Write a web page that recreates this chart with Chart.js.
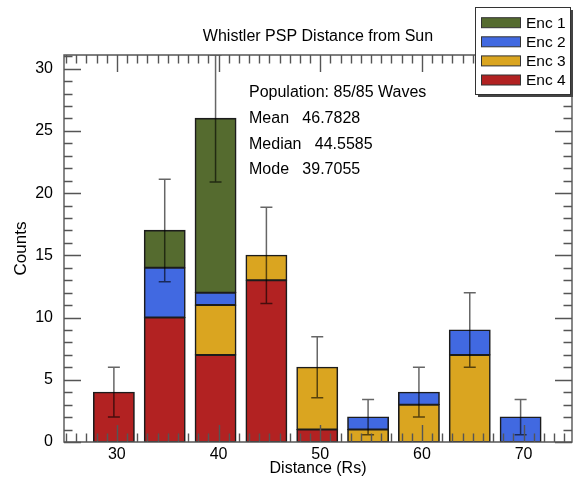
<!DOCTYPE html>
<html>
<head>
<meta charset="utf-8">
<script src="https://cdn.jsdelivr.net/npm/chart.js@4.4.1/dist/chart.umd.min.js"></script>
<style>
  html, body { margin: 0; padding: 0; background: #ffffff; }
  #wrap { width: 580px; height: 479px; }
</style>
</head>
<body>
<div id="wrap"><canvas id="c" width="580" height="479"></canvas></div>
<script>
// ---- data ----
const binCenters = [29.7055, 34.7055, 39.7055, 44.7055, 49.7055, 54.7055, 59.7055, 64.7055, 69.7055];
const enc1 = [0, 3, 14, 0, 0, 0, 0, 0, 0];
const enc2 = [0, 4, 1, 0, 0, 1, 1, 2, 2];
const enc3 = [0, 0, 4, 2, 5, 1, 3, 7, 0];
const enc4 = [4, 10, 7, 13, 1, 0, 0, 0, 0];
const errors = [2.0, 4.12, 5.10, 3.87, 2.45, 1.41, 2.0, 3.0, 1.41];
const seriesNames = ['Enc 1', 'Enc 2', 'Enc 3', 'Enc 4'];
const seriesColors = ['#556B2F', '#4169E1', '#DAA520', '#B22222'];
const xTicks = [30, 40, 50, 60, 70];
const yTicks = [0, 5, 10, 15, 20, 25, 30];
const titleText = 'Whistler PSP Distance from Sun';
const statsLines = ['Population: 85/85 Waves', 'Mean   46.7828', 'Median   44.5585', 'Mode   39.7055'];

const FONT = '"Liberation Sans", Arial, Helvetica, sans-serif';
Chart.defaults.font.family = FONT;
Chart.defaults.color = '#000';

const seriesData = [enc1, enc2, enc3, enc4];
function pts(arr) {
  const out = [];
  arr.forEach((v, i) => { if (v) out.push({ x: binCenters[i], y: v }); });
  return out;
}
// stacking order: Enc 4 at bottom, Enc 1 on top
const datasets = [3, 2, 1, 0].map(k => ({
  label: seriesNames[k],
  data: pts(seriesData[k]),
  backgroundColor: seriesColors[k],
  borderColor: '#1c1c1c',
  borderWidth: 1.6,
  borderSkipped: false,
  inflateAmount: 0.6,
  categoryPercentage: 1.0,
  barPercentage: 0.8
}));

const totals = binCenters.map((_, i) => enc1[i] + enc2[i] + enc3[i] + enc4[i]);

const errorBarPlugin = {
  id: 'errorBars',
  afterDatasetsDraw(chart) {
    const { ctx, chartArea: a, scales: { x, y } } = chart;
    ctx.save();
    ctx.beginPath();
    ctx.rect(a.left, a.top, a.right - a.left, a.bottom - a.top);
    ctx.clip();
    ctx.strokeStyle = 'rgba(0,0,0,0.6)';
    ctx.lineWidth = 1.5;
    binCenters.forEach((c, i) => {
      const px = x.getPixelForValue(c);
      const lo = y.getPixelForValue(totals[i] - errors[i]);
      const hi = y.getPixelForValue(totals[i] + errors[i]);
      ctx.beginPath();
      ctx.moveTo(px, lo); ctx.lineTo(px, hi);
      ctx.moveTo(px - 6, lo); ctx.lineTo(px + 6, lo);
      ctx.moveTo(px - 6, hi); ctx.lineTo(px + 6, hi);
      ctx.stroke();
    });
    ctx.restore();
  }
};

const axesPlugin = {
  id: 'boxAxes',
  afterDatasetsDraw(chart) {
    const { ctx, chartArea: a, scales: { x, y } } = chart;
    ctx.save();
    ctx.strokeStyle = '#555';
    ctx.lineWidth = 1.4;
    ctx.beginPath();
    for (let v = Math.ceil(x.min); v <= x.max; v++) {
      const px = Math.round(x.getPixelForValue(v)) + 0.5;
      const len = (v % 10 === 0) ? 17 : 8.5;
      ctx.moveTo(px, a.bottom); ctx.lineTo(px, a.bottom - len);
      ctx.moveTo(px, a.top); ctx.lineTo(px, a.top + len);
    }
    for (let v = Math.ceil(y.min); v <= y.max; v++) {
      const py = Math.round(y.getPixelForValue(v)) + 0.5;
      const len = (v % 5 === 0) ? 17 : 8.5;
      ctx.moveTo(a.left, py); ctx.lineTo(a.left + len, py);
      ctx.moveTo(a.right, py); ctx.lineTo(a.right - len, py);
    }
    ctx.stroke();
    ctx.beginPath();
    ctx.rect(a.left, a.top, a.right - a.left, a.bottom - a.top);
    ctx.stroke();
    ctx.restore();
  }
};

const textPlugin = {
  id: 'texts',
  afterDraw(chart) {
    const { ctx, chartArea: a } = chart;
    ctx.save();
    ctx.fillStyle = '#000';
    // title
    ctx.font = '16px ' + FONT;
    ctx.textAlign = 'center';
    ctx.textBaseline = 'alphabetic';
    ctx.fillText(titleText, (a.left + a.right) / 2, 41);
    // stats
    ctx.textAlign = 'left';
    ctx.font = '16px ' + FONT;
    const baselines = [97, 123, 148.5, 174];
    statsLines.forEach((s, i) => ctx.fillText(s, 249, baselines[i]));
    // legend
    const bx = 475.5, by = 7.5, bw = 95, bh = 87;
    ctx.fillStyle = '#444';
    ctx.fillRect(bx + 2.5, by + 2.5, bw, bh);
    ctx.fillStyle = '#fff';
    ctx.fillRect(bx, by, bw, bh);
    ctx.strokeStyle = '#333';
    ctx.lineWidth = 1;
    ctx.strokeRect(bx, by, bw, bh);
    ctx.font = '15.5px ' + FONT;
    ctx.textBaseline = 'middle';
    seriesNames.forEach((n, i) => {
      const cy = 22.7 + i * 19.1;
      ctx.fillStyle = seriesColors[i];
      ctx.fillRect(481.5, cy - 5, 39, 10);
      ctx.strokeStyle = '#333';
      ctx.strokeRect(481.5, cy - 5, 39, 10);
      ctx.fillStyle = '#000';
      ctx.fillText(n, 526, cy + 1);
    });
    ctx.restore();
  }
};

new Chart(document.getElementById('c'), {
  type: 'bar',
  data: { datasets },
  options: {
    responsive: false,
    animation: false,
    devicePixelRatio: 1,
    layout: { padding: { left: 0, right: 8, top: 55, bottom: 0 } },
    plugins: { legend: { display: false }, tooltip: { enabled: false }, title: { display: false } },
    scales: {
      x: {
        type: 'linear', stacked: true, offset: false,
        min: 24.8, max: 74.76,
        grid: { display: false, drawTicks: false },
        border: { display: false },
        afterBuildTicks: s => { s.ticks = xTicks.map(v => ({ value: v })); },
        afterFit: s => { s.height = 37; },
        ticks: { font: { size: 16 }, padding: 3, maxRotation: 0, autoSkip: false },
        title: { display: true, text: 'Distance (Rs)', font: { size: 16 }, padding: { top: 0, bottom: 1 } }
      },
      y: {
        type: 'linear', stacked: true,
        min: 0, max: 31.1,
        grid: { display: false, drawTicks: false },
        border: { display: false },
        afterBuildTicks: s => { s.ticks = yTicks.map(v => ({ value: v })); },
        afterFit: s => { s.width = 64; },
        ticks: { font: { size: 16 }, padding: 11, autoSkip: false },
        title: { display: true, text: 'Counts', font: { size: 17 }, padding: { top: 11, bottom: 0 } }
      }
    }
  },
  plugins: [errorBarPlugin, axesPlugin, textPlugin]
});
</script>
</body>
</html>
